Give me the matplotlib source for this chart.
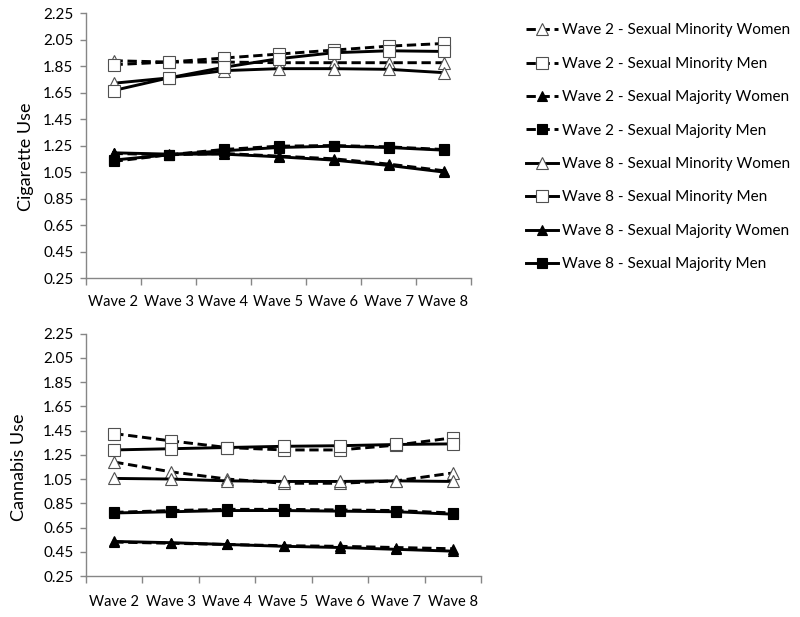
import matplotlib
matplotlib.use("Agg")
import matplotlib.pyplot as plt

plt.rcParams["font.family"] = ["Lato", "DejaVu Sans"]

waves = ["Wave 2", "Wave 3", "Wave 4", "Wave 5", "Wave 6", "Wave 7", "Wave 8"]
y_ticks = [0.25, 0.45, 0.65, 0.85, 1.05, 1.25, 1.45, 1.65, 1.85, 2.05, 2.25]

series_labels = [
    "Wave 2 - Sexual Minority Women",
    "Wave 2 - Sexual Minority Men",
    "Wave 2 - Sexual Majority Women",
    "Wave 2 - Sexual Majority Men",
    "Wave 8 - Sexual Minority Women",
    "Wave 8 - Sexual Minority Men",
    "Wave 8 - Sexual Majority Women",
    "Wave 8 - Sexual Majority Men",
]

# cigarette use
cig_w2_min_women = [1.89, 1.88, 1.88, 1.875, 1.875, 1.875, 1.875]
cig_w2_min_men = [1.86, 1.88, 1.91, 1.94, 1.97, 2.00, 2.02]
cig_w2_maj_women = [1.19, 1.18, 1.19, 1.17, 1.15, 1.11, 1.06]
cig_w2_maj_men = [1.13, 1.18, 1.22, 1.245, 1.25, 1.24, 1.22]
cig_w8_min_women = [1.72, 1.76, 1.815, 1.83, 1.83, 1.825, 1.80]
cig_w8_min_men = [1.665, 1.76, 1.84, 1.905, 1.95, 1.965, 1.96]
cig_w8_maj_women = [1.195, 1.185, 1.185, 1.165, 1.14, 1.10, 1.05]
cig_w8_maj_men = [1.14, 1.18, 1.21, 1.235, 1.245, 1.235, 1.215]

# cannabis use
can_w2_min_women = [1.19, 1.11, 1.05, 1.015, 1.015, 1.035, 1.10]
can_w2_min_men = [1.425, 1.365, 1.31, 1.29, 1.29, 1.33, 1.39]
can_w2_maj_women = [0.53, 0.52, 0.51, 0.50, 0.495, 0.485, 0.475]
can_w2_maj_men = [0.775, 0.79, 0.80, 0.80, 0.795, 0.79, 0.77]
can_w8_min_women = [1.055, 1.05, 1.035, 1.03, 1.03, 1.035, 1.03]
can_w8_min_men = [1.29, 1.30, 1.31, 1.32, 1.325, 1.335, 1.34]
can_w8_maj_women = [0.535, 0.525, 0.51, 0.495, 0.485, 0.47, 0.455]
can_w8_maj_men = [0.77, 0.78, 0.79, 0.79, 0.785, 0.78, 0.76]

cig_series = [cig_w2_min_women, cig_w2_min_men, cig_w2_maj_women, cig_w2_maj_men,
              cig_w8_min_women, cig_w8_min_men, cig_w8_maj_women, cig_w8_maj_men]
can_series = [can_w2_min_women, can_w2_min_men, can_w2_maj_women, can_w2_maj_men,
              can_w8_min_women, can_w8_min_men, can_w8_maj_women, can_w8_maj_men]

DASH = (0, (3.2, 1.6))
styles = [
    dict(ls=DASH, marker="^", mfc="white"),
    dict(ls=DASH, marker="s", mfc="white"),
    dict(ls=DASH, marker="^", mfc="black"),
    dict(ls=DASH, marker="s", mfc="black"),
    dict(ls="-", marker="^", mfc="white"),
    dict(ls="-", marker="s", mfc="white"),
    dict(ls="-", marker="^", mfc="black"),
    dict(ls="-", marker="s", mfc="black"),
]
AXIS_GRAY = "#868686"


def draw_panel(ax, series, ylabel, label_x, label_y, xpad):
    x = list(range(len(waves)))
    handles = []
    for values, st, lab in zip(series, styles, series_labels):
        open_marker = st["mfc"] == "white"
        h, = ax.plot(x, values, color="black", lw=2.1, ls=st["ls"],
                     marker=st["marker"], ms=8.5 if open_marker else 7.5,
                     mfc=st["mfc"], mec="#505050" if open_marker else "black",
                     mew=0.8, label=lab)
        handles.append(h)
    ax.set_xlim(-0.5, len(waves) - 0.5)
    ax.set_ylim(0.25, 2.25)
    ax.set_yticks(y_ticks)
    ax.set_yticklabels([f"{v:.2f}" for v in y_ticks])
    ax.set_xticks(x)
    ax.set_xticklabels(waves)
    ax.set_xticks([i - 0.5 for i in range(len(waves) + 1)], minor=True)
    ax.tick_params(axis="x", which="major", length=0, pad=xpad, labelsize=10.5)
    ax.tick_params(axis="x", which="minor", length=5, color=AXIS_GRAY, width=1)
    ax.tick_params(axis="y", length=4, color=AXIS_GRAY, width=1, pad=5, labelsize=11)
    for side in ["top", "right"]:
        ax.spines[side].set_visible(False)
    for side in ["left", "bottom"]:
        ax.spines[side].set_color(AXIS_GRAY)
        ax.spines[side].set_linewidth(1)
    ax.set_ylabel(ylabel, fontsize=13)
    ax.yaxis.set_label_coords(label_x, label_y)
    return handles


fig = plt.figure(figsize=(8, 6.17), dpi=100)
ax_top = fig.add_axes([0.1075, 0.5494, 0.48125, 0.4295])
ax_bot = fig.add_axes([0.1075, 0.06645, 0.49375, 0.3929])

handles = draw_panel(ax_top, cig_series, "Cigarette Use", -0.135, 0.458, 12)
draw_panel(ax_bot, can_series, "Cannabis Use", -0.150, 0.447, 14)

fig.legend(handles=handles, loc="upper left", bbox_to_anchor=(0.657, 0.962),
           frameon=False, fontsize=11, labelspacing=1.27, handlelength=2.1,
           handletextpad=0.3, borderpad=0, borderaxespad=0)

fig.savefig("out.png", dpi=100)
